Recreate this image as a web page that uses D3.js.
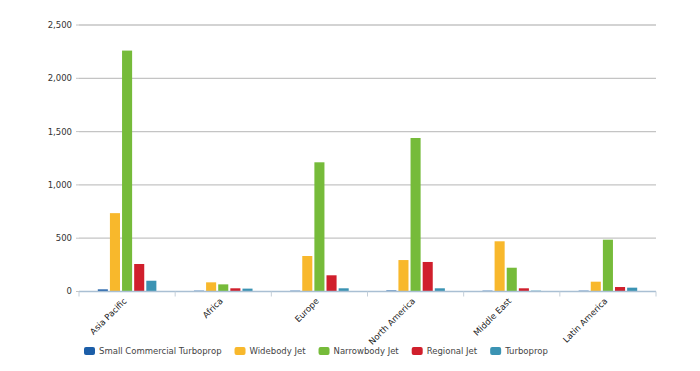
<!DOCTYPE html>
<html><head><meta charset="utf-8">
<script src="https://cdn.jsdelivr.net/npm/d3@7"></script>
<style>body{margin:0;background:#fff;}svg{display:block;font-family:"DejaVu Sans",Verdana,sans-serif;}</style>
</head><body>
<svg id="c" width="700" height="371"></svg>
<script>
const categories = ["Asia Pacific","Africa","Europe","North America","Middle East","Latin America"];
const seriesNames = ["Small Commercial Turboprop","Widebody Jet","Narrowbody Jet","Regional Jet","Turboprop"];
const smallCommercialTurboprop = [20, 8, 8, 10, 8, 8];
const widebodyJet = [735, 86, 333, 295, 471, 92];
const narrowbodyJet = [2260, 67, 1212, 1440, 223, 486];
const regionalJet = [258, 30, 152, 277, 30, 42];
const turboprop = [101, 27, 30, 30, 8, 36];
const yTicks = [0, 500, 1000, 1500, 2000, 2500];
const colors = ["#1c5ea8","#f8b82c","#76bb3a","#d01f2c","#3b93b3"];

const values = [smallCommercialTurboprop, widebodyJet, narrowbodyJet, regionalJet, turboprop];
const svg = d3.select("#c");
const m = {l:79, r:44, t:25, b:79.5};
const W = 700 - m.l - m.r, H = 371 - m.t - m.b;
const g = svg.append("g").attr("transform",`translate(${m.l},${m.t})`);
const x = d3.scaleBand().domain(categories).range([0,W]);
const xs = d3.scaleBand().domain(seriesNames).range([0,x.bandwidth()]).paddingInner(0.17).paddingOuter(1.55);
const y = d3.scaleLinear().domain([0,2500]).range([H,0]);

// gridlines
g.append("g").selectAll("line").data(yTicks.filter(d=>d>0)).join("line")
 .attr("x1",0).attr("x2",W).attr("y1",d=>y(d)).attr("y2",d=>y(d))
 .attr("stroke","#c4c4c4").attr("stroke-width",1.3);
// y labels
g.append("g").selectAll("text").data(yTicks).join("text")
 .attr("x",-7).attr("y",d=>y(d)).attr("dy","0.35em").attr("text-anchor","end")
 .attr("font-size","8.5px").attr("fill","#333").text(d=>d3.format(",")(d));
// y small tick stubs
g.append("g").selectAll("line").data(yTicks).join("line")
 .attr("x1",-3).attr("x2",0).attr("y1",d=>y(d)).attr("y2",d=>y(d)).attr("stroke","#c4c4c4");

// bars
const grp = g.append("g").selectAll("g").data(categories).join("g")
 .attr("transform",d=>`translate(${x(d)},0)`);
grp.selectAll("rect").data((c,i)=>seriesNames.map((s,j)=>({s,j,v:values[j][i]}))).join("rect")
 .attr("x",d=>xs(d.s)).attr("width",xs.bandwidth())
 .attr("y",d=>y(d.v)).attr("height",d=>H-y(d.v)).attr("fill",d=>colors[d.j]);

// x axis
const xa = g.append("g").attr("transform",`translate(0,${H})`);
xa.append("line").attr("x1",0).attr("x2",W).attr("stroke","#a9bfd3").attr("stroke-width",1.3);
xa.selectAll("line.t").data(d3.range(categories.length+1)).join("line").attr("class","t")
 .attr("x1",i=>i*x.step()).attr("x2",i=>i*x.step()).attr("y1",0).attr("y2",5).attr("stroke","#c4cfd9");
xa.selectAll("text").data(categories).join("text")
 .attr("transform",d=>`translate(${x(d)+x.bandwidth()/2-2},${8}) rotate(-45)`)
 .attr("text-anchor","end").attr("dy","0.35em").attr("font-size","8.5px").attr("fill","#222").text(d=>d);

// legend
const lg = svg.append("g").attr("transform","translate(84,351)");
let lx = 0;
seriesNames.forEach((s,i)=>{
  const it = lg.append("g").attr("transform",`translate(${lx},0)`);
  it.append("rect").attr("x",0).attr("y",-4).attr("width",11).attr("height",8).attr("rx",2).attr("fill",colors[i]);
  const t = it.append("text").attr("x",15).attr("dy","0.35em").attr("font-size","8.5px").attr("fill","#444").text(s);
  lx += 15 + t.node().getComputedTextLength() + 13;
});
</script>
</body></html>
